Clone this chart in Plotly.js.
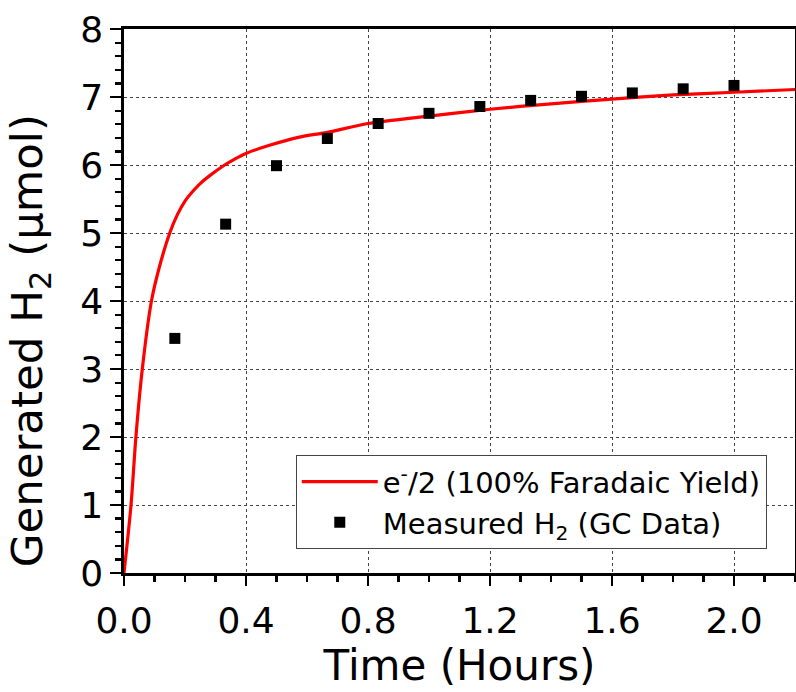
<!DOCTYPE html>
<html>
<head>
<meta charset="utf-8">
<script src="https://cdn.plot.ly/plotly-3.0.1.min.js"></script>
<style>html,body{margin:0;padding:0;background:#fff}#chart{width:796px;height:692px}</style>
</head>
<body>
<div id="chart"></div>
<script>
// Theoretical curve: e-/2 (100% Faradaic Yield)
const curveTime = [0, 0.023, 0.039, 0.06, 0.09, 0.116, 0.15, 0.175, 0.2, 0.225, 0.248, 0.28, 0.33, 0.36, 0.4, 0.477, 0.575, 0.667, 0.8, 1.0, 1.2, 1.4, 1.6, 1.8, 2.0, 2.2];
const curveH2   = [0, 1.0, 2.0, 3.0, 4.0, 4.5, 5.0, 5.27, 5.47, 5.61, 5.72, 5.84, 6.0, 6.08, 6.17, 6.29, 6.41, 6.48, 6.61, 6.72, 6.82, 6.90, 6.97, 7.03, 7.07, 7.11];
// Measured H2 (GC data)
const gcTime = [0.1667, 0.3333, 0.5, 0.6667, 0.8333, 1.0, 1.1667, 1.3333, 1.5, 1.6667, 1.8333, 2.0];
const gcH2   = [3.45, 5.13, 5.99, 6.39, 6.61, 6.76, 6.86, 6.95, 7.01, 7.06, 7.12, 7.17];
const xTickVals = [0, 0.4, 0.8, 1.2, 1.6, 2.0];
const xTickText = ['0.0', '0.4', '0.8', '1.2', '1.6', '2.0'];
const yTickVals = [0, 1, 2, 3, 4, 5, 6, 7, 8];
const yTitle = 'Generated H<sub>2</sub> (μmol)';

const FONT = '"DejaVu Sans", Arial, sans-serif';

const traces = [
  {
    x: curveTime, y: curveH2, type: 'scatter', mode: 'lines',
    name: 'e<sup>-</sup>/2 (100% Faradaic Yield)',
    line: {color: '#ff0000', width: 3.2, shape: 'spline', smoothing: 0.8},
    cliponaxis: true
  },
  {
    x: gcTime, y: gcH2, type: 'scatter', mode: 'markers',
    name: 'Measured H<sub>2</sub> (GC Data)',
    marker: {symbol: 'square', size: 11, color: '#000000'},
    cliponaxis: false
  }
];

const layout = {
  width: 796, height: 692,
  margin: {l: 124, r: 1, t: 29, b: 119},
  paper_bgcolor: '#ffffff', plot_bgcolor: '#ffffff',
  font: {family: FONT, color: '#000'},
  showlegend: true,
  legend: {
    x: 0.256, y: 0.2165, xanchor: 'left', yanchor: 'top',
    bgcolor: '#ffffff', bordercolor: '#444', borderwidth: 1,
    font: {family: FONT, size: 29, color: '#000'},
    itemwidth: 76, tracegroupgap: 0
  },
  xaxis: {
    range: [0, 2.2], tickvals: xTickVals, ticktext: xTickText,
    showline: true, linecolor: '#000', linewidth: 2.7, mirror: true,
    ticks: 'outside', ticklen: 10, tickwidth: 2.5, tickcolor: '#000',
    ticklabelstandoff: 4,
    minor: {dtick: 0.1, ticks: 'outside', ticklen: 6, tickwidth: 2.2, tickcolor: '#000', showgrid: false},
    showgrid: true, gridcolor: '#444', griddash: 'dot', gridwidth: 1,
    zeroline: false,
    tickfont: {family: FONT, size: 36, color: '#000'},
    title: {text: 'Time (Hours)', font: {family: FONT, size: 42, color: '#000'}, standoff: 7}
  },
  yaxis: {
    range: [0, 8], tickvals: yTickVals,
    showline: true, linecolor: '#000', linewidth: 2.7, mirror: true,
    ticks: 'outside', ticklen: 11, tickwidth: 2.5, tickcolor: '#000',
    minor: {dtick: 0.2, ticks: 'outside', ticklen: 6, tickwidth: 2.2, tickcolor: '#000', showgrid: false},
    showgrid: true, gridcolor: '#444', griddash: 'dot', gridwidth: 1,
    zeroline: false,
    tickfont: {family: FONT, size: 36, color: '#000'}
  },
  annotations: [{
    text: yTitle, textangle: -90, showarrow: false,
    xref: 'paper', yref: 'paper', x: -0.140, y: 0.426,
    xanchor: 'center', yanchor: 'middle',
    font: {family: FONT, size: 43.5, color: '#000'}
  }]
};

Plotly.newPlot('chart', traces, layout, {displayModeBar: false, staticPlot: true});
</script>
</body>
</html>
